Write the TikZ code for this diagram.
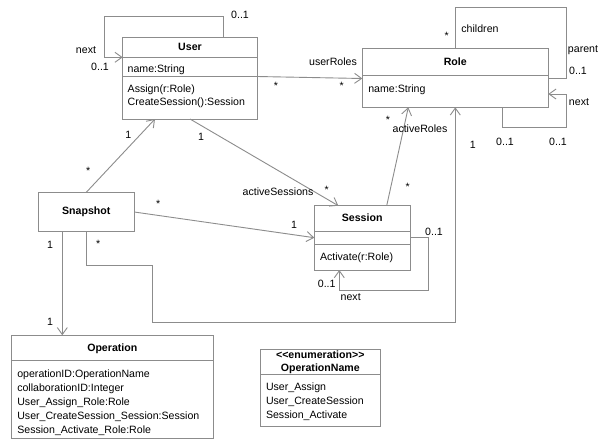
\documentclass[tikz,border=0pt]{standalone}
\usepackage{fontspec}
\setmainfont{Liberation Sans}
\usetikzlibrary{arrows.meta,calc}
\definecolor{linegray}{RGB}{140,140,140}
\begin{document}
\begin{tikzpicture}[x=1pt,y=-1pt,
  every node/.style={inner sep=0pt,outer sep=0pt,font=\fontsize{10.6}{12.7}\selectfont},
  cls/.style={draw=linegray,line width=1pt,anchor=north west,rectangle},
  sep/.style={draw=linegray,line width=1pt},
  conn/.style={draw=linegray,line width=0.9pt},
  nav/.style={conn,-{Straight Barb[length=7pt,width=10pt,line width=0.9pt]}},
  ttl/.style={font=\fontsize{10.6}{12.7}\selectfont\bfseries},
  txt/.style={anchor=west},
  lbl/.style={}]
\useasboundingbox (0,0) rectangle (603,440);
\fill[white] (0,0) rectangle (603,440);

% ---------- classes ----------
\node[cls,minimum width=134.6pt,minimum height=81.7pt] (user) at (122.7,37.3) {};
\draw[sep] ([yshift=-20pt]user.north west) -- ([yshift=-20pt]user.north east);
\draw[sep] ([yshift=-38.7pt]user.north west) -- ([yshift=-38.7pt]user.north east);
\node[ttl] (userT) at (190,46.7) {User};
\node[txt] (userA) at (127.7,70) {name:String};
\node[txt] (userM1) at (127.7,89.3) {Assign(r:Role)};
\node[txt] (userM2) at (127.7,102.7) {CreateSession():Session};

\node[cls,minimum width=186pt,minimum height=59pt] (role) at (362.3,48.3) {};
\draw[sep] ([yshift=-26.7pt]role.north west) -- ([yshift=-26.7pt]role.north east);
\node[ttl] (roleT) at (455.3,61.7) {Role};
\node[txt] (roleA) at (368.3,89.3) {name:String};

\node[cls,minimum width=95.7pt,minimum height=64.3pt] (session) at (314.3,205.7) {};
\draw[sep] ([yshift=-26pt]session.north west) -- ([yshift=-26pt]session.north east);
\draw[sep] ([yshift=-38.6pt]session.north west) -- ([yshift=-38.6pt]session.north east);
\node[ttl] (sessionT) at (362.2,217.7) {Session};
\node[txt] (sessionM) at (320,257.3) {Activate(r:Role)};

\node[cls,minimum width=96pt,minimum height=39.4pt] (snap) at (38.3,192.3) {};
\node[ttl] (snapT) at (86.3,211.7) {Snapshot};

\node[cls,minimum width=201.3pt,minimum height=103pt] (op) at (11.7,335.3) {};
\draw[sep] ([yshift=-24.7pt]op.north west) -- ([yshift=-24.7pt]op.north east);
\node[ttl] (opT) at (112.3,348.3) {Operation};
\node[txt] (opA1) at (17.3,374.3) {operationID:OperationName};
\node[txt] (opA2) at (17.3,388.3) {collaborationID:Integer};
\node[txt] (opA3) at (17.3,402.3) {User\_Assign\_Role:Role};
\node[txt] (opA4) at (17.3,416.3) {User\_CreateSession\_Session:Session};
\node[txt] (opA5) at (17.3,430.3) {Session\_Activate\_Role:Role};

\node[cls,minimum width=119.3pt,minimum height=77.7pt] (enum) at (260.7,349) {};
\draw[sep] ([yshift=-25.3pt]enum.north west) -- ([yshift=-25.3pt]enum.north east);
\node[ttl] (enumS) at (320.3,354.6) {<{}<enumeration>{}>};
\node[ttl] (enumT) at (320.3,368.3) {OperationName};
\node[txt] (enumL1) at (266,387.7) {User\_Assign};
\node[txt] (enumL2) at (266,401.7) {User\_CreateSession};
\node[txt] (enumL3) at (266,415.7) {Session\_Activate};

% ---------- connector end points ----------
\coordinate (uLoopA) at ([xshift=100.6pt]user.north west);
\coordinate (uLoopB) at ([yshift=-20pt]user.north west);
\coordinate (uRoles) at ([yshift=-39.2pt]user.north east);
\coordinate (uSnap) at ([xshift=32.3pt]user.south west);
\coordinate (rUsers) at ([yshift=-30.2pt]role.north west);
\coordinate (rParent) at ([yshift=-30pt]role.north east);
\coordinate (rNextA) at ([xshift=140pt]role.south west);
\coordinate (rNextB) at ([yshift=-45.7pt]role.north east);
\coordinate (rActive) at ([xshift=46pt]role.south west);
\coordinate (sRoles) at ([xshift=72.4pt]session.north west);
\coordinate (sUser) at ([xshift=24pt]session.north west);
\coordinate (sSnap) at ([yshift=-32pt]session.north west);
\coordinate (sNextA) at ([yshift=-32pt]session.north east);
\coordinate (sNextB) at ([xshift=25pt]session.south west);
\coordinate (snOp) at ([xshift=24pt]snap.south west);

% ---------- associations ----------
\draw[nav] (uLoopA) |- (104,16) |- (uLoopB);
\draw[nav] (uRoles) -- (rUsers);
\draw[conn] (role.north) |- (566.7,7.3) |- (rParent);
\draw[nav] (rNextA) |- (566.7,127.3) |- (rNextB);
\draw[nav] (sRoles) -- (rActive);
\draw[nav] (user.south) -- (sUser);
\draw[nav] (snap.north) -- (uSnap);
\draw[nav] (snap.east) -- (sSnap);
\draw[nav] (sNextA) -| (428.3,290) -| (sNextB);
\draw[nav] (snap.south) |- (152.7,265) |- (455.3,322.3) -- (role.south);
\draw[nav] (snOp) -- (snOp |- op.north);

% ---------- role names and multiplicities ----------
\node[lbl] (m1) at (240,15) {0..1};
\node[lbl] (m2) at (86,50) {next};
\node[lbl] (m3) at (100,66.7) {0..1};
\node[lbl] (m4) at (276,86) {*};
\node[lbl] (m5) at (333,61.7) {userRoles};
\node[lbl] (m6) at (341.7,86) {*};
\node[lbl] (m7) at (446.7,36) {*};
\node[lbl] (m8) at (480,29) {children};
\node[lbl] (m9) at (583,50) {parent};
\node[lbl] (m10) at (578,70.7) {0..1};
\node[lbl] (m11) at (579,101.7) {next};
\node[lbl] (m12) at (505,141.7) {0..1};
\node[lbl] (m13) at (558,141.7) {0..1};
\node[lbl] (m14) at (388,120.3) {*};
\node[lbl] (m15) at (420,128.3) {activeRoles};
\node[lbl] (m16) at (407.7,187) {*};
\node[lbl] (m17) at (201,136.7) {1};
\node[lbl] (m18) at (278,191.7) {activeSessions};
\node[lbl] (m19) at (326.7,190.3) {*};
\node[lbl] (m20) at (128.3,135) {1};
\node[lbl] (m21) at (88.3,171) {*};
\node[lbl] (m22) at (158.3,203.7) {*};
\node[lbl] (m23) at (294,225) {1};
\node[lbl] (m24) at (434,231.7) {0..1};
\node[lbl] (m25) at (326.7,284) {0..1};
\node[lbl] (m26) at (350.7,296.7) {next};
\node[lbl] (m27) at (98.3,244.3) {*};
\node[lbl] (m28) at (472.7,145) {1};
\node[lbl] (m29) at (50,245) {1};
\node[lbl] (m30) at (50,322.3) {1};
\end{tikzpicture}
\end{document}
